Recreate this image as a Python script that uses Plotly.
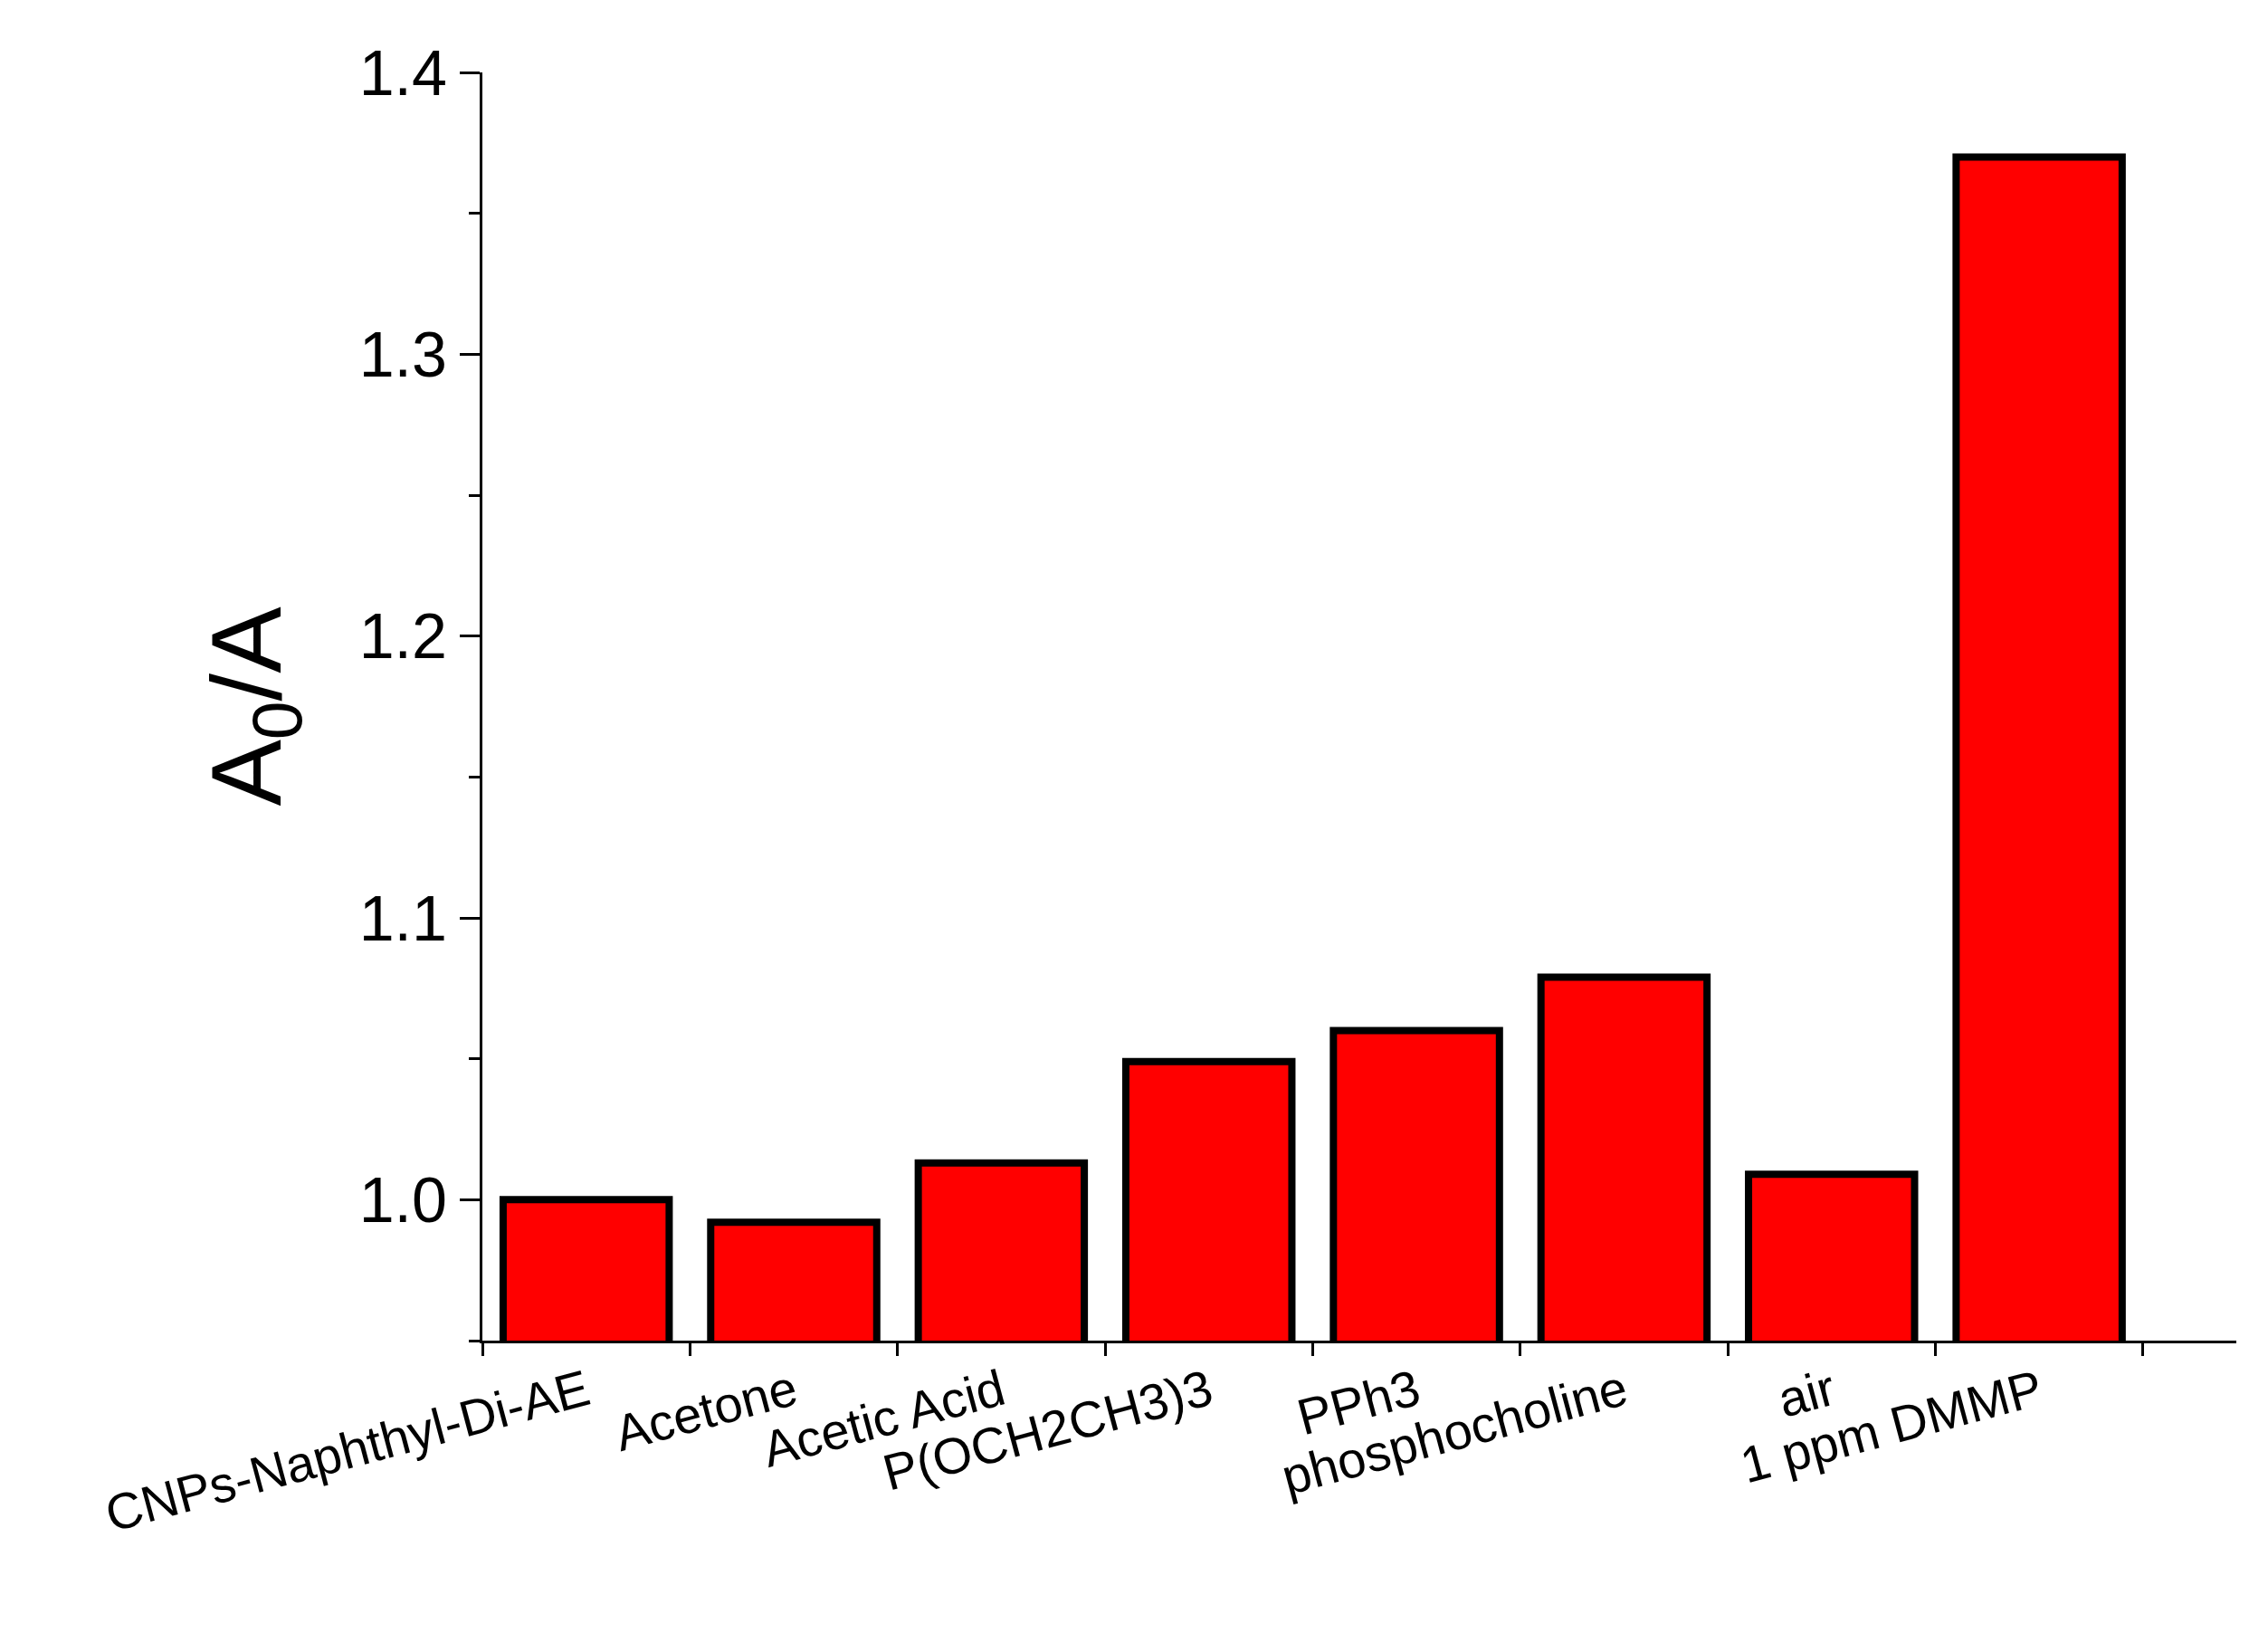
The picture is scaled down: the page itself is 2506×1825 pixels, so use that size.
import plotly.graph_objects as go

categories = ["CNPs-Naphthyl-Di-AE", "Acetone", "Acetic Acid", "P(OCH2CH3)3",
              "PPh3", "phosphocholine", "air", "1 ppm DMMP"]
values = [1.000, 0.992, 1.013, 1.049, 1.060, 1.079, 1.009, 1.370]
positions = list(range(len(categories)))

fig = go.Figure(go.Bar(
    x=positions, y=values, width=0.8,
    marker=dict(color="#ff0000", line=dict(color="black", width=8)),
))
fig.update_layout(
    width=2506, height=1825, plot_bgcolor="white", paper_bgcolor="white",
    margin=dict(l=525, r=43, t=72, b=352), showlegend=False,
    font=dict(family="Liberation Sans", color="black"),
)
fig.update_xaxes(
    range=[-0.5, 7.95], tickvals=positions, ticktext=categories, tickangle=-15,
    ticks="", tickfont=dict(size=56), showgrid=False, zeroline=False,
    showline=True, linecolor="black", linewidth=3,
    minor=dict(tick0=-0.5, dtick=1, ticks="outside", ticklen=14, tickwidth=3, tickcolor="black"),
)
fig.update_yaxes(
    range=[0.95, 1.4], tickvals=[1.0, 1.1, 1.2, 1.3, 1.4], tickformat=".1f",
    ticks="outside", ticklen=22, tickwidth=3, tickcolor="black",
    tickfont=dict(size=70), showgrid=False, zeroline=False,
    showline=True, linecolor="black", linewidth=3,
    minor=dict(dtick=0.05, ticks="outside", ticklen=12, tickwidth=3, tickcolor="black"),
    title=dict(text="A<sub>0</sub>/A", font=dict(size=110), standoff=50),
)
fig.write_html("out.html")
